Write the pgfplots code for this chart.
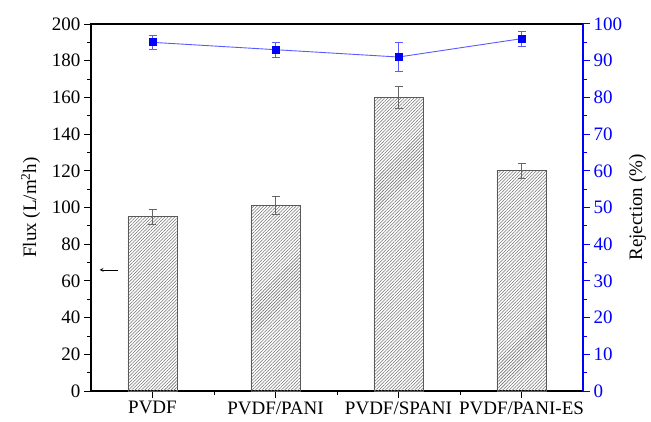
\documentclass[border=0pt]{standalone}
\usepackage{pgfplots}
\pgfplotsset{compat=1.18}
\usepackage{fontspec}
\setmainfont{Liberation Serif}
\usetikzlibrary{patterns.meta,calc}
\pgfplotsset{
  every axis/.append style={
    scale only axis, width=492pt, height=367pt,
    xmin=-0.5, xmax=3.5,
    tick align=outside,
    major tick length=7pt, minor tick length=4pt,
    /pgf/number format/assume math mode=true,
    tick label style={font=\fontsize{19}{22}\selectfont},
    label style={font=\fontsize{19}{22}\selectfont},
    axis line style={line width=1.1pt},
    every tick/.style={line width=1pt},
    every minor tick/.style={line width=0.9pt},
  }
}
\begin{document}
\begin{tikzpicture}
\begin{axis}[
  ymin=0, ymax=200,
  xtick={0,1,2,3},
  xticklabels={PVDF,PVDF/PANI,PVDF/SPANI,PVDF/PANI-ES},
  minor xtick={0.5,1.5,2.5},
  ytick={0,20,...,200},
  minor ytick={10,30,...,190},
  xtick pos=bottom, ytick pos=left,
  ylabel={Flux (L/m\textsuperscript{2}h)},
  ylabel style={yshift=5pt},
  clip=false,
]
\addplot[ybar, bar width=0.4, draw=black!65, line width=0.7pt,
  pattern={Lines[angle=45,distance=2.3pt,line width=0.55pt]}, pattern color=black!55,
  error bars/.cd, y dir=both, y explicit,
  error bar style={black!60, line width=0.7pt},
  error mark options={rotate=90, mark size=4pt, black!60, line width=0.7pt}]
coordinates {(0,95) +- (0,4) (1,101) +- (0,5) (2,160) +- (0,6) (3,120) +- (0,4)};
\draw[-stealth, line width=0.7pt] (axis cs:-0.28,66) -- (axis cs:-0.43,66);
\coordinate (bl) at (rel axis cs:0,0);
\coordinate (tr) at (rel axis cs:1,1);
\end{axis}
\begin{axis}[
  axis y line*=right, axis x line=none,
  ymin=0, ymax=100,
  ytick={0,10,...,100},
  minor ytick={5,15,...,95},
  ylabel={Rejection (\%)},
  y axis line style={blue},
  y tick style={blue},
  yticklabel style={blue},
]
\addplot[color={rgb,255:red,90;green,90;blue,255}, line width=0.9pt, mark=square*,
  mark size=3.5pt, mark options={blue, solid},
  error bars/.cd, y dir=both, y explicit,
  error bar style={color={rgb,255:red,90;green,90;blue,255}, line width=0.7pt},
  error mark options={rotate=90, mark size=4pt, color={rgb,255:red,90;green,90;blue,255}, line width=0.7pt}]
coordinates {(0,95) +- (0,2) (1,93) +- (0,2) (2,91) +- (0,4) (3,96) +- (0,2)};
\end{axis}
\path ($(bl)+(-91pt,-30pt)$) rectangle ($(tr)+(68pt,24pt)$);
\end{tikzpicture}
\end{document}
